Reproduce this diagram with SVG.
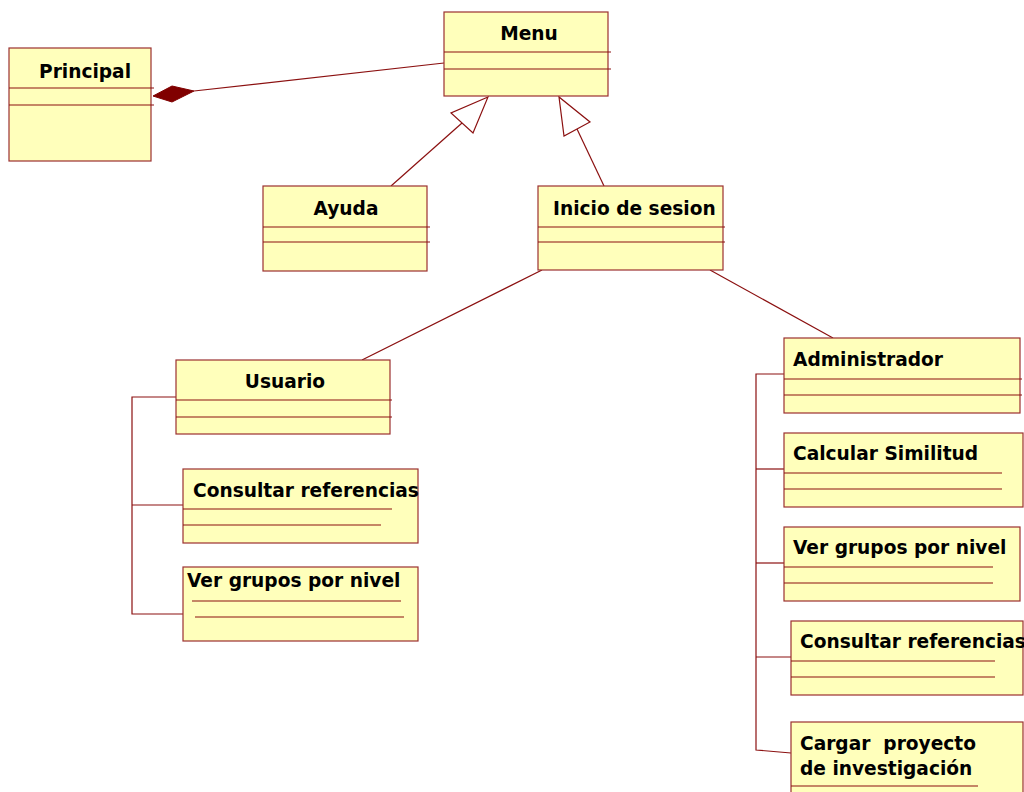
<svg xmlns="http://www.w3.org/2000/svg" width="1024" height="792" viewBox="0 0 1024 792">
<style>
.box{fill:#FFFFBB;stroke:#9B3030;stroke-width:1.2}
.sep{stroke:#8B1010;stroke-width:1.2;fill:none}
.ln{stroke:#8B1010;stroke-width:1.2;fill:none}
.t{font-family:"DejaVu Sans",Verdana,sans-serif;font-weight:bold;font-size:18.6px;fill:#000}
.c{text-anchor:middle}
</style>
<rect width="1024" height="792" fill="#fff"/>
<g id="connectors">
<line class="ln" x1="194" y1="91" x2="444" y2="63"/>
<polygon points="153,96 172,86 194,91 172,102" fill="#800000" stroke="#800000"/>
<line class="ln" x1="391" y1="186" x2="462" y2="123"/>
<polygon points="488,97 451,113 473,133" fill="#fff" stroke="#8B1010" stroke-width="1.2"/>
<line class="ln" x1="604" y1="186" x2="577" y2="129"/>
<polygon points="559,97 564,136 590,122" fill="#fff" stroke="#8B1010" stroke-width="1.2"/>
<line class="ln" x1="542" y1="270" x2="362" y2="360"/>
<line class="ln" x1="710" y1="270" x2="833" y2="338"/>
<polyline class="ln" points="176,397 132,397 132,614 183,614"/>
<line class="ln" x1="132" y1="505" x2="183" y2="505"/>
<polyline class="ln" points="784,374 756,374 756,750 791,753"/>
<line class="ln" x1="756" y1="469" x2="784" y2="469"/>
<line class="ln" x1="756" y1="563" x2="784" y2="563"/>
<line class="ln" x1="756" y1="657" x2="791" y2="657"/>
</g>
<g id="principal">
<rect class="box" x="9" y="48" width="142" height="113"/>
<line class="sep" x1="9" y1="88" x2="154" y2="88"/>
<line class="sep" x1="9" y1="105" x2="154" y2="105"/>
<text class="t" x="39" y="78">Principal</text>
</g>
<g id="menu">
<rect class="box" x="444" y="12" width="164" height="84"/>
<line class="sep" x1="444" y1="52" x2="611" y2="52"/>
<line class="sep" x1="444" y1="69" x2="611" y2="69"/>
<text class="t c" x="529" y="40">Menu</text>
</g>
<g id="ayuda">
<rect class="box" x="263" y="186" width="164" height="85"/>
<line class="sep" x1="263" y1="227" x2="430" y2="227"/>
<line class="sep" x1="263" y1="242" x2="430" y2="242"/>
<text class="t c" x="346" y="215">Ayuda</text>
</g>
<g id="inicio">
<rect class="box" x="538" y="186" width="185" height="84"/>
<line class="sep" x1="538" y1="227" x2="725" y2="227"/>
<line class="sep" x1="538" y1="242" x2="725" y2="242"/>
<text class="t" x="553" y="215">Inicio de sesion</text>
</g>
<g id="usuario">
<rect class="box" x="176" y="360" width="214" height="74"/>
<line class="sep" x1="176" y1="400" x2="392" y2="400"/>
<line class="sep" x1="176" y1="417" x2="392" y2="417"/>
<text class="t c" x="285" y="388">Usuario</text>
</g>
<g id="u-consultar">
<rect class="box" x="183" y="469" width="235" height="74"/>
<line class="sep" x1="183" y1="509" x2="392" y2="509"/>
<line class="sep" x1="183" y1="525" x2="381" y2="525"/>
<text class="t" x="193" y="497">Consultar referencias</text>
</g>
<g id="u-ver">
<rect class="box" x="183" y="567" width="235" height="74"/>
<line class="sep" x1="192" y1="601" x2="401" y2="601"/>
<line class="sep" x1="195" y1="617" x2="404" y2="617"/>
<text class="t" x="187" y="587">Ver grupos por nivel</text>
</g>
<g id="administrador">
<rect class="box" x="784" y="338" width="236" height="75"/>
<line class="sep" x1="784" y1="379" x2="1022" y2="379"/>
<line class="sep" x1="784" y1="395" x2="1022" y2="395"/>
<text class="t" x="793" y="366">Administrador</text>
</g>
<g id="a-calcular">
<rect class="box" x="784" y="433" width="239" height="74"/>
<line class="sep" x1="784" y1="473" x2="1002" y2="473"/>
<line class="sep" x1="784" y1="489" x2="1002" y2="489"/>
<text class="t" x="793" y="460">Calcular Similitud</text>
</g>
<g id="a-ver">
<rect class="box" x="784" y="527" width="236" height="74"/>
<line class="sep" x1="784" y1="567" x2="993" y2="567"/>
<line class="sep" x1="784" y1="583" x2="993" y2="583"/>
<text class="t" x="793" y="554">Ver grupos por nivel</text>
</g>
<g id="a-consultar">
<rect class="box" x="791" y="621" width="232" height="74"/>
<line class="sep" x1="791" y1="661" x2="995" y2="661"/>
<line class="sep" x1="791" y1="677" x2="995" y2="677"/>
<text class="t" x="800" y="648">Consultar referencias</text>
</g>
<g id="a-cargar">
<rect class="box" x="791" y="722" width="232" height="80"/>
<line class="sep" x1="791" y1="786" x2="978" y2="786"/>
<text class="t" x="800" y="750" xml:space="preserve">Cargar  proyecto</text>
<text class="t" x="800" y="775">de investigación</text>
</g>
</svg>
